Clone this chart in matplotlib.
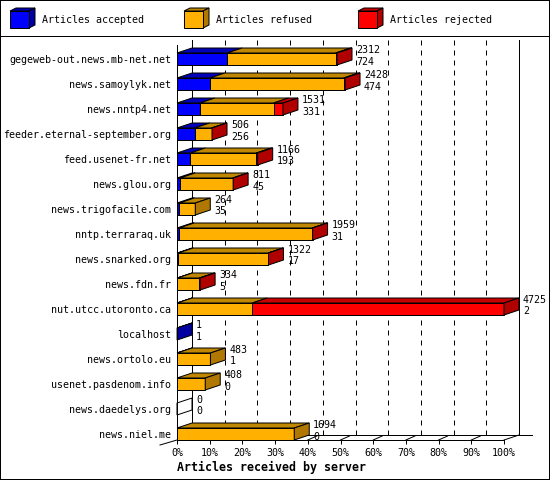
import numpy as np
import matplotlib
matplotlib.use('Agg')
import matplotlib.pyplot as plt
from matplotlib.patches import Polygon, Rectangle
from matplotlib.lines import Line2D

# data (article counts per server)
hosts = ['gegeweb-out.news.mb-net.net', 'news.samoylyk.net', 'news.nntp4.net',
         'feeder.eternal-september.org', 'feed.usenet-fr.net', 'news.glou.org',
         'news.trigofacile.com', 'nntp.terraraq.uk', 'news.snarked.org',
         'news.fdn.fr', 'nut.utcc.utoronto.ca', 'localhost', 'news.ortolo.eu',
         'usenet.pasdenom.info', 'news.daedelys.org', 'news.niel.me']
totals = [2312, 2428, 1531, 506, 1166, 811, 264, 1959, 1322, 334, 4725, 1, 483, 408, 0, 1694]
accepted = [724, 474, 331, 256, 193, 45, 35, 31, 17, 5, 2, 1, 1, 0, 0, 0]
refused = [1568, 1934, 1065, 245, 953, 761, 229, 1923, 1300, 319, 1084, 0, 482, 408, 0, 1694]
rejected = [20, 20, 135, 5, 20, 5, 0, 5, 5, 10, 3639, 0, 0, 0, 0, 0]

series_names = ['Articles accepted', 'Articles refused', 'Articles rejected']
front_cols = ['#0000ff', '#ffb000', '#ff0000']
top_cols = ['#0000b8', '#c08800', '#c80000']
side_cols = ['#0000a0', '#b07800', '#b00000']
tick_vals = list(range(0, 101, 10))
tick_labels = ['%d%%' % v for v in tick_vals]

plt.rcParams['font.family'] = 'DejaVu Sans Mono'
FS = 7.2
LW = 0.72  # one pixel

W, H = 550, 480
fig = plt.figure(figsize=(W / 100, H / 100), dpi=100)
fig.patch.set_facecolor('white')

# front plot area in pixels: x 177..504, y 45..440, rows 25px apart
ax = fig.add_axes([177 / W, 40 / H, 327 / W, 395 / H])
ax.set_xlim(0, 100)
ax.set_ylim(15.24, -0.56)
px = 100 / 327.0   # percent per pixel
py = 1 / 25.0      # rows per pixel
DX, DY = 15 * px, -5 * py
half = 6 * py
y_lo, y_hi = ax.get_ylim()

for s in ['top', 'right']:
    ax.spines[s].set_visible(False)
for s in ['left', 'bottom']:
    ax.spines[s].set_linewidth(LW)
    ax.spines[s].set_zorder(6)

ax.set_xticks(tick_vals)
ax.set_xticklabels(tick_labels, fontsize=FS)
ax.tick_params(axis='x', length=3, width=LW, pad=3)
ax.set_yticks(range(len(hosts)))
ax.set_yticklabels(hosts, fontsize=FS)
ax.tick_params(axis='y', length=0, pad=4)
ax.set_xlabel('Articles received by server', fontsize=8.4, fontweight='bold',
              loc='left', labelpad=2)

# back wall and floor
line_kw = dict(color='black', lw=LW, clip_on=False, zorder=1)
for v in tick_vals[1:-1]:
    ln, = ax.plot([v + DX, v + DX], [y_hi + DY, y_lo + DY], **line_kw)
    ln.set_dashes((5, 5))
ax.plot([DX, DX], [y_hi + DY, y_lo + DY], **line_kw)
ax.plot([100 + DX, 100 + DX], [y_hi + DY, y_lo + DY], **line_kw)
ax.plot([DX, 100 + DX + 13 * px], [y_lo + DY, y_lo + DY], **line_kw)
ax.plot([100, 100 + DX], [y_lo, y_lo + DY], **line_kw)
ax.plot([-17 * px, 0], [y_lo + 5 * py, y_lo], **line_kw)
for v in tick_vals[1:-1]:
    ax.plot([v, v + 9 * px], [y_lo, y_lo - 4 * py], **line_kw)

# 3d stacked bars
vmax = float(max(totals))
edge = dict(edgecolor='black', linewidth=LW, clip_on=False, zorder=3)
for i in range(len(hosts)):
    vals = [accepted[i], refused[i], rejected[i]]
    yt, yb = i - half, i + half
    x0 = 0.0
    last = None
    for k, v in enumerate(vals):
        if v <= 0:
            continue
        x1 = x0 + v / vmax * 100
        ax.add_patch(Rectangle((x0, yt), x1 - x0, yb - yt, facecolor=front_cols[k], **edge))
        ax.add_patch(Polygon([(x0, yt), (x1, yt), (x1 + DX, yt + DY), (x0 + DX, yt + DY)],
                             closed=True, facecolor=top_cols[k], **edge))
        x0 = x1
        last = k
    fc = side_cols[last] if last is not None else 'none'
    ax.add_patch(Polygon([(x0, yt), (x0 + DX, yt + DY), (x0 + DX, yb + DY), (x0, yb)],
                         closed=True, facecolor=fc, **edge))
    tx = x0 + DX + 4 * px
    ax.text(tx, i - 9 * py, str(totals[i]), fontsize=FS, ha='left', va='center', zorder=7)
    ax.text(tx, i + 2.5 * py, str(accepted[i]), fontsize=FS, ha='left', va='center', zorder=7)

# legend strip
lax = fig.add_axes([0, 1 - 35 / H, 1, 35 / H])
lax.set_xlim(0, W)
lax.set_ylim(35, 0)
lax.axis('off')
for k, (name, lx) in enumerate(zip(series_names, [10, 184, 358])):
    lax.add_patch(Polygon([(lx, 11), (lx + 19, 11), (lx + 25, 8), (lx + 6, 8)], closed=True,
                          facecolor=top_cols[k], edgecolor='black', linewidth=LW))
    lax.add_patch(Polygon([(lx + 19, 11), (lx + 25, 8), (lx + 25, 25), (lx + 19, 28)], closed=True,
                          facecolor=side_cols[k], edgecolor='black', linewidth=LW))
    lax.add_patch(Rectangle((lx, 11), 19, 17, facecolor=front_cols[k],
                            edgecolor='black', linewidth=LW))
    lax.text(lx + 32, 20, name, fontsize=FS, ha='left', va='center')

fig.add_artist(Line2D([0, 1], [1 - 35.5 / H, 1 - 35.5 / H], color='black', lw=LW,
                      transform=fig.transFigure))
fig.add_artist(Rectangle((0, 0), 1, 1, transform=fig.transFigure, fill=False,
                         edgecolor='black', linewidth=2 * LW))

fig.savefig('out.png', dpi=100)
